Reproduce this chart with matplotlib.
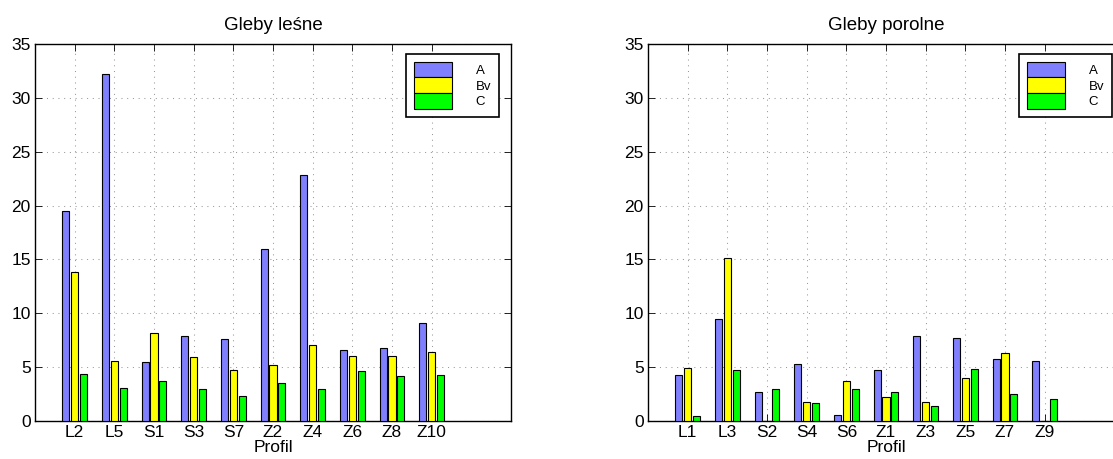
import numpy as np
import matplotlib.pyplot as plt

plt.rcParams['font.family'] = ['Liberation Sans', 'DejaVu Sans']

horizons = ['A', 'Bv', 'C']
bar_colors = ['#8080ff', '#ffff00', '#00ff00']

# gleby lesne
forest_profiles = ['L2', 'L5', 'S1', 'S3', 'S7', 'Z2', 'Z4', 'Z6', 'Z8', 'Z10']
forest_A = [19.5, 32.2, 5.5, 7.9, 7.6, 15.95, 22.85, 6.6, 6.75, 9.1]
forest_Bv = [13.85, 5.6, 8.2, 5.9, 4.7, 5.2, 7.1, 6.0, 6.0, 6.4]
forest_C = [4.35, 3.1, 3.75, 3.0, 2.35, 3.5, 3.0, 4.6, 4.2, 4.25]

# gleby porolne
field_profiles = ['L1', 'L3', 'S2', 'S4', 'S6', 'Z1', 'Z3', 'Z5', 'Z7', 'Z9']
field_A = [4.25, 9.45, 2.7, 5.25, 0.6, 4.7, 7.9, 7.7, 5.8, 5.6]
field_Bv = [4.9, 15.1, 0.0, 1.75, 3.75, 2.2, 1.8, 4.0, 6.3, 0.0]
field_C = [0.45, 4.7, 3.0, 1.7, 3.0, 2.7, 1.35, 4.8, 2.5, 2.0]


def draw_group(ax, title, profiles, series):
    x = np.arange(1, len(profiles) + 1)
    offsets = [-0.222, 0.0, 0.222]
    for vals, off, col, name in zip(series, offsets, bar_colors, horizons):
        ax.bar(x + off, vals, width=0.18, color=col, edgecolor='black',
               linewidth=0.8, label=name, zorder=3)
    ax.set_xlim(0, 12)
    ax.set_ylim(0, 35)
    ax.set_xticks(x)
    ax.set_xticklabels(profiles)
    ax.set_yticks(np.arange(0, 36, 5))
    ax.grid(True, linestyle=(0, (1, 4.5)), color='#999999', linewidth=0.75,
            zorder=0)
    ax.tick_params(direction='in', top=True, right=True, length=5, width=0.6,
                   labelsize=12.5, pad=3)
    for sp in ax.spines.values():
        sp.set_linewidth(1.0)
    ax.set_title(title, fontsize=13.5, pad=10)
    ax.set_xlabel('Profil', fontsize=12.5, labelpad=0)
    # swatches stacked with no gap between rows
    leg = ax.legend(loc='upper right', bbox_to_anchor=(0.975, 0.974),
                    borderaxespad=0, fontsize=9.5, handlelength=2.88,
                    handleheight=1.45, labelspacing=0, handletextpad=1.8,
                    borderpad=0.6, fancybox=False, framealpha=1)
    leg.get_frame().set_edgecolor('black')
    leg.get_frame().set_linewidth(1.2)


fig = plt.figure(figsize=(11.13, 4.59), dpi=100)
ax1 = fig.add_axes([35 / 1113, 38 / 459, 476 / 1113, 377 / 459])
ax2 = fig.add_axes([648 / 1113, 38 / 459, 476 / 1113, 377 / 459])

draw_group(ax1, 'Gleby leśne', forest_profiles, [forest_A, forest_Bv, forest_C])
draw_group(ax2, 'Gleby porolne', field_profiles, [field_A, field_Bv, field_C])

fig.savefig('out.png', dpi=100)
